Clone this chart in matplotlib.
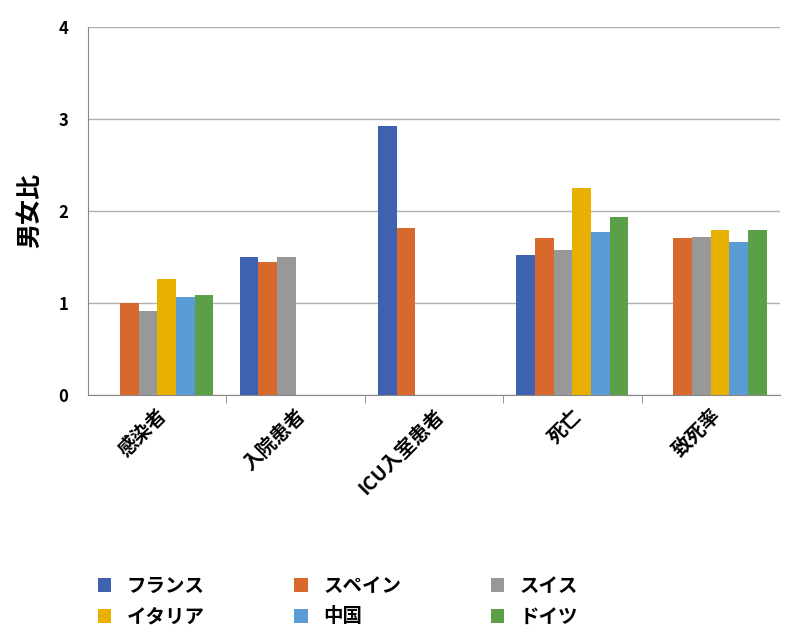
import matplotlib
matplotlib.use("Agg")
import matplotlib.pyplot as plt
import numpy as np

plt.rcParams["font.family"] = ["Noto Sans CJK JP"]

categories = ["感染者", "入院患者", "ICU入室患者", "死亡", "致死率"]
series_names = ["フランス", "スペイン", "スイス", "イタリア", "中国", "ドイツ"]
france = [np.nan, 1.50, 2.92, 1.52, np.nan]
spain = [1.00, 1.44, 1.81, 1.70, 1.70]
swiss = [0.91, 1.50, np.nan, 1.57, 1.72]
italy = [1.26, np.nan, np.nan, 2.25, 1.79]
china = [1.06, np.nan, np.nan, 1.77, 1.66]
germany = [1.08, np.nan, np.nan, 1.93, 1.79]
values = [france, spain, swiss, italy, china, germany]
colors = ["#3F62B0", "#D8692C", "#989898", "#E8B000", "#5B9BD5", "#5BA048"]
yticks = [0, 1, 2, 3, 4]

fig = plt.figure(figsize=(8, 6.44), dpi=100)
ax = fig.add_axes([0.11, 0.387, 0.865, 0.571])
x = np.arange(len(categories))
w = 0.135
for i, (name, vals, c) in enumerate(zip(series_names, values, colors)):
    ax.bar(x + (i - 2.5) * w, vals, w, color=c, label=name, zorder=3)

ax.set_xlim(-0.5, 4.5)
ax.set_ylim(0, 4)
ax.set_yticks(yticks)
ax.set_yticklabels([str(t) for t in yticks], fontsize=12, fontweight="bold")
ax.grid(axis="y", color="#B0B0B0", linewidth=1, zorder=0)
ax.set_xticks(x)
ax.set_xticklabels(categories, rotation=45, ha="right", rotation_mode="anchor",
                   fontsize=14, fontweight="bold")
ax.tick_params(axis="x", length=0, pad=8)
ax.tick_params(axis="y", length=0, pad=14)
ax.set_xticks(np.arange(0.5, 4.5, 1), minor=True)
ax.tick_params(axis="x", which="minor", length=6, color="#888888")
for s in ["top", "right"]:
    ax.spines[s].set_visible(False)
ax.spines["left"].set_color("#888888")
ax.spines["bottom"].set_color("#888888")
ax.set_ylabel("男女比", fontsize=18, fontweight="bold", labelpad=12)

handles, labels = ax.get_legend_handles_labels()
order = [0, 3, 1, 4, 2, 5]
fig.legend([handles[i] for i in order], [labels[i] for i in order],
           loc="lower left", bbox_to_anchor=(0.10, 0.0), ncol=3,
           frameon=False, prop={"size": 14, "weight": "bold"},
           handlelength=0.7, handleheight=0.7, columnspacing=4.6, labelspacing=0.6)
fig.savefig("out.png", dpi=100)
